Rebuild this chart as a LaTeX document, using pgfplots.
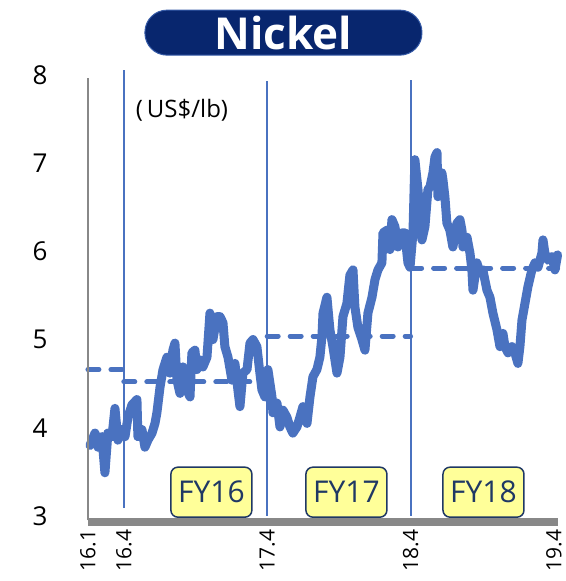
\documentclass[border=0pt]{standalone}
\usepackage{pgfplots}
\pgfplotsset{compat=1.18}
\usepackage{fontspec}
\setmainfont{Open Sans}
\definecolor{lineblue}{RGB}{74,114,192}
\definecolor{navy}{RGB}{8,38,110}
\definecolor{boxyellow}{RGB}{255,255,153}
\definecolor{boxtext}{RGB}{31,56,100}
\definecolor{axgray}{RGB}{136,136,136}
\tikzset{fybox/.style={fill=boxyellow, draw=boxtext, line width=1.5pt, rounded corners=7pt, minimum width=81pt, minimum height=50pt, text=boxtext, font=\fontsize{30}{34}\selectfont, inner sep=0pt}}
\begin{document}
\begin{tikzpicture}
\begin{axis}[
 scale only axis, width=469.6pt, height=441pt,
 xmin=0, xmax=39.3, ymin=3, ymax=8,
 axis line style={draw=none},
 major tick length=0pt,
 xtick={0,3,15,27,39},
 xticklabels={16.1,16.4,17.4,18.4,19.4},
 ytick={3,4,5,6,7,8},
 xticklabel style={yshift=-10pt, rotate=90, anchor=east, font=\fontsize{21}{24}\selectfont},
 yticklabel style={font=\fontsize{26}{30}\selectfont, xshift=-37pt},
 /pgf/number format/assume math mode=true,
 clip=false,
]
% invisible frame for page size
\path (axis cs:-7.36,2.263) rectangle (axis cs:39.75,8.85);
% averages
\addplot[lineblue, line width=5pt, line cap=round, dash pattern=on 11pt off 12pt] coordinates {(0,4.66) (3,4.66)};
\addplot[lineblue, line width=5pt, line cap=round, dash pattern=on 11pt off 12pt] coordinates {(3,4.52) (15,4.52)};
\addplot[lineblue, line width=5pt, line cap=round, dash pattern=on 11pt off 12pt] coordinates {(15,5.04) (27,5.04)};
\addplot[lineblue, line width=5pt, line cap=round, dash pattern=on 11pt off 12pt] coordinates {(27,5.81) (39.3,5.81)};
% price
\addplot[lineblue, line width=9pt, line join=round, line cap=round] coordinates {
(0.17,3.80)(0.59,3.94)(0.84,3.78)(1.17,3.90)(1.42,3.49)(1.67,3.94)(2.01,3.90)(2.26,4.22)(2.51,3.86)(2.85,3.98)
(3.10,3.90)(3.35,4.12)(3.68,4.26)(4.10,4.32)(4.18,3.90)(4.52,3.98)(4.77,3.78)(5.02,3.86)(5.36,3.94)(5.61,4.05)
(5.77,4.17)(6.03,4.46)(6.28,4.66)(6.61,4.80)(6.86,4.62)(7.11,4.88)(7.28,4.96)
(7.45,4.54)(7.70,4.39)(7.95,4.69)(8.28,4.43)(8.54,4.35)(8.70,4.85)(8.95,4.88)(9.12,4.66)(9.37,4.77)(9.62,4.69)
(9.96,4.80)(10.21,5.30)(10.46,5.00)(10.79,5.26)(11.05,5.26)(11.30,5.19)(11.46,4.92)(11.72,4.80)(12.05,4.54)
(12.30,4.73)(12.55,4.43)(12.72,4.24)(12.97,4.62)(13.31,4.66)(13.56,4.96)(13.81,5.00)(14.14,4.92)(14.39,4.62)(14.56,4.43)
(14.81,4.35)(15.06,4.66)(15.40,4.35)(15.48,4.17)(15.82,4.28)(16.07,4.01)(16.32,4.20)(16.65,4.12)(16.90,4.01)
(17.15,3.94)(17.49,4.01)(17.74,4.12)(17.99,4.24)(18.33,4.05)(18.58,4.35)(18.83,4.58)(19.16,4.66)(19.41,4.80)
(19.58,5.03)(19.67,5.30)(20.00,5.48)(20.25,5.11)(20.50,4.92)(20.84,4.62)(21.09,4.80)(21.34,5.26)
(21.67,5.41)(21.92,5.73)(22.18,5.79)(22.34,5.37)(22.59,5.14)(22.93,5.00)(23.18,4.88)(23.43,5.30)(23.77,5.48)
(24.02,5.68)(24.27,5.79)(24.60,5.87)(24.69,6.21)(25.02,6.24)(25.27,6.02)(25.44,6.36)(25.69,6.28)(25.94,6.05)
(26.28,6.21)(26.53,6.21)(26.69,5.98)(26.78,5.87)(26.95,5.82)(27.20,6.21)(27.36,7.04)(27.62,6.70)(27.95,6.13)
(28.20,6.28)(28.45,6.70)(28.62,6.73)(28.87,6.89)(29.04,7.07)(29.21,7.12)(29.29,6.62)(29.62,6.89)(29.71,6.81)
(29.87,6.62)(30.04,6.32)(30.29,6.24)(30.54,6.05)(30.88,6.32)(31.13,6.36)(31.30,6.24)(31.38,6.05)(31.72,6.16)
(31.97,5.98)(32.13,5.79)(32.22,5.56)(32.55,5.87)(32.80,5.76)(33.05,5.79)(33.39,5.56)(33.64,5.48)(33.89,5.30)
(34.23,5.11)(34.48,4.92)(34.73,5.07)(34.90,4.92)(35.15,4.85)(35.48,4.92)(35.73,4.85)(35.98,4.73)(36.15,4.92)
(36.32,5.22)(36.57,5.41)(36.82,5.60)(37.15,5.79)(37.41,5.87)(37.66,5.82)(37.99,5.98)(38.08,6.13)(38.24,5.98)
(38.49,5.90)(38.83,5.94)(39.08,5.79)(39.30,5.96)
};
% vertical reference lines
\addplot[lineblue, line width=2pt] coordinates {(3,3.09) (3,8.06)};
\addplot[lineblue, line width=2.5pt] coordinates {(15,3) (15,7.93)};
\addplot[lineblue, line width=2pt] coordinates {(27,3) (27,7.94)};
% axes
\addplot[axgray, line width=2.5pt] coordinates {(0,2.95) (0,7.97)};
\addplot[axgray, line width=8pt] coordinates {(0,2.93) (39.3,2.93)};
% annotations
\node[font=\fontsize{24}{28}\selectfont] at (axis cs:7.87,7.60) {(\,US\$/lb)};
\node[fill=navy, draw=lineblue!70!navy, line width=1pt, rounded corners=22pt, minimum width=277pt, minimum height=45pt, text=white, font=\fontsize{44}{50}\selectfont\bfseries, inner sep=0pt] at (axis cs:16.36,8.48) {Nickel};
\node[fybox] at (axis cs:10.33,3.27) {FY16};
\node[fybox] at (axis cs:21.63,3.27) {FY17};
\node[fybox] at (axis cs:33.10,3.27) {FY18};
\end{axis}
\end{tikzpicture}
\end{document}
